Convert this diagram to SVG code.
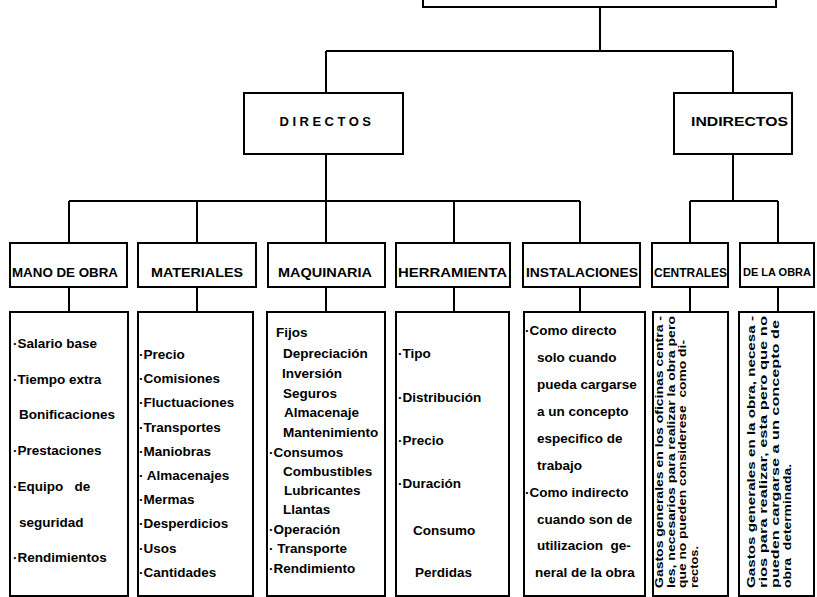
<svg xmlns="http://www.w3.org/2000/svg" width="817" height="597" viewBox="0 0 817 597">
<style>
.box{fill:#fff;stroke:#000;stroke-width:2}
.ln{fill:none;stroke:#000;stroke-width:2}
.hd{font-family:"Liberation Sans",Arial,sans-serif;font-weight:bold;font-size:13px;fill:#000}
.sm{font-size:11px}
.tx{font-family:"Liberation Sans",Arial,sans-serif;font-weight:bold;font-size:13.5px;fill:#000}
.rt{font-family:"Liberation Sans",Arial,sans-serif;font-weight:bold;font-size:11.5px;fill:#000}
</style>
<rect width="817" height="597" fill="#fff"/>
<g id="connectors">
<path class="ln" d="M600 7V51M326 51H733M326 51V93M733 51V93"/>
<path class="ln" d="M326 154V201M69 201H580M69 201V243M197 201V243M326 201V243M454 201V243M580 201V243"/>
<path class="ln" d="M733 154V201M690 201H778M690 201V243M778 201V243"/>
<path class="ln" d="M69 287V312M197 287V312M326 287V312M454 287V312M580 287V312M690 287V312M778 287V312"/>
</g>
<g id="root"><rect class="box" x="423" y="-30" width="353" height="37"/></g>
<g id="directos"><rect class="box" x="244" y="93" width="159" height="61"/><text class="hd" x="327" y="126" text-anchor="middle" letter-spacing="3.5">DIRECTOS</text></g>
<g id="indirectos"><rect class="box" x="674" y="93" width="118" height="61"/><text class="hd" x="691" y="126" textLength="97" lengthAdjust="spacingAndGlyphs">INDIRECTOS</text></g>

<g id="mano-de-obra">
<rect class="box" x="10" y="243" width="117" height="44"/>
<text class="hd" x="12" y="277" textLength="106" lengthAdjust="spacingAndGlyphs">MANO DE OBRA</text>
<rect class="box" x="10" y="312" width="118" height="284"/>
<text class="tx" x="13" y="348">·Salario base</text>
<text class="tx" x="13" y="384">·Tiempo extra</text>
<text class="tx" x="19" y="419">Bonificaciones</text>
<text class="tx" x="13" y="455">·Prestaciones</text>
<text class="tx" x="13" y="491" xml:space="preserve">·Equipo   de</text>
<text class="tx" x="19" y="527">seguridad</text>
<text class="tx" x="13" y="562">·Rendimientos</text>
</g>

<g id="materiales">
<rect class="box" x="138" y="243" width="118" height="44"/>
<text class="hd" x="151" y="277" textLength="92" lengthAdjust="spacingAndGlyphs">MATERIALES</text>
<rect class="box" x="138" y="312" width="115" height="284"/>
<text class="tx" x="139" y="359">·Precio</text>
<text class="tx" x="139" y="383">·Comisiones</text>
<text class="tx" x="139" y="407">·Fluctuaciones</text>
<text class="tx" x="139" y="432">·Transportes</text>
<text class="tx" x="139" y="456">·Maniobras</text>
<text class="tx" x="139" y="480">· Almacenajes</text>
<text class="tx" x="139" y="504">·Mermas</text>
<text class="tx" x="139" y="528">·Desperdicios</text>
<text class="tx" x="139" y="553">·Usos</text>
<text class="tx" x="139" y="577">·Cantidades</text>
</g>

<g id="maquinaria">
<rect class="box" x="268" y="243" width="117" height="44"/>
<text class="hd" x="278" y="277" textLength="94" lengthAdjust="spacingAndGlyphs">MAQUINARIA</text>
<rect class="box" x="267" y="312" width="118" height="284"/>
<text class="tx" x="276" y="337">Fijos</text>
<text class="tx" x="283" y="358">Depreciación</text>
<text class="tx" x="282" y="378">Inversión</text>
<text class="tx" x="283" y="398">Seguros</text>
<text class="tx" x="284" y="417">Almacenaje</text>
<text class="tx" x="283" y="437">Mantenimiento</text>
<text class="tx" x="269" y="457">·Consumos</text>
<text class="tx" x="283" y="476">Combustibles</text>
<text class="tx" x="284" y="495">Lubricantes</text>
<text class="tx" x="283" y="514">Llantas</text>
<text class="tx" x="269" y="534">·Operación</text>
<text class="tx" x="269" y="553">· Transporte</text>
<text class="tx" x="269" y="573">·Rendimiento</text>
</g>

<g id="herramienta">
<rect class="box" x="396" y="243" width="114" height="44"/>
<text class="hd" x="398" y="277" textLength="109" lengthAdjust="spacingAndGlyphs">HERRAMIENTA</text>
<rect class="box" x="396" y="312" width="113" height="284"/>
<text class="tx" x="398" y="358">·Tipo</text>
<text class="tx" x="398" y="402">·Distribución</text>
<text class="tx" x="398" y="445">·Precio</text>
<text class="tx" x="398" y="488">·Duración</text>
<text class="tx" x="413" y="535">Consumo</text>
<text class="tx" x="415" y="577">Perdidas</text>
</g>

<g id="instalaciones">
<rect class="box" x="523" y="243" width="117" height="44"/>
<text class="hd" x="526" y="277" textLength="112" lengthAdjust="spacingAndGlyphs">INSTALACIONES</text>
<rect class="box" x="524" y="312" width="121" height="284"/>
<text class="tx" x="525" y="335">·Como directo</text>
<text class="tx" x="537" y="362">solo cuando</text>
<text class="tx" x="537" y="389">pueda cargarse</text>
<text class="tx" x="537" y="416">a un concepto</text>
<text class="tx" x="537" y="443">especifico de</text>
<text class="tx" x="537" y="470">trabajo</text>
<text class="tx" x="525" y="497">·Como indirecto</text>
<text class="tx" x="537" y="524">cuando son de</text>
<text class="tx" x="537" y="550" xml:space="preserve">utilizacion  ge-</text>
<text class="tx" x="535" y="577">neral de la obra</text>
</g>

<g id="centrales">
<rect class="box" x="652" y="243" width="76" height="44"/>
<text class="hd" x="654" y="277" textLength="73" lengthAdjust="spacingAndGlyphs">CENTRALES</text>
<rect class="box" x="653" y="312" width="75" height="284"/>
<text class="rt" transform="translate(663 588) rotate(-90)" textLength="272" lengthAdjust="spacingAndGlyphs">Gastos generales en los oficinas centra -</text>
<text class="rt" transform="translate(674.5 588) rotate(-90)" textLength="272" lengthAdjust="spacingAndGlyphs">les, necesarios para realizar la obra pero</text>
<text class="rt" transform="translate(686 588) rotate(-90)" textLength="248" lengthAdjust="spacingAndGlyphs" xml:space="preserve">que no pueden considerese  como di-</text>
<text class="rt" transform="translate(697.5 588) rotate(-90)" textLength="42" lengthAdjust="spacingAndGlyphs">rectos.</text>
</g>

<g id="de-la-obra">
<rect class="box" x="740" y="243" width="74" height="44"/>
<text class="hd sm" x="777" y="276" text-anchor="middle">DE LA OBRA</text>
<rect class="box" x="739" y="312" width="75" height="284"/>
<text class="rt" transform="translate(755 588) rotate(-90)" textLength="272" lengthAdjust="spacingAndGlyphs">Gastos generales en la obra, necesa -</text>
<text class="rt" transform="translate(767 588) rotate(-90)" textLength="272" lengthAdjust="spacingAndGlyphs">rios para realizar, esta pero que no</text>
<text class="rt" transform="translate(779 588) rotate(-90)" textLength="268" lengthAdjust="spacingAndGlyphs">pueden cargarse a un concepto de</text>
<text class="rt" transform="translate(791 588) rotate(-90)" textLength="124" lengthAdjust="spacingAndGlyphs" xml:space="preserve">obra  determinada.</text>
</g>
</svg>
